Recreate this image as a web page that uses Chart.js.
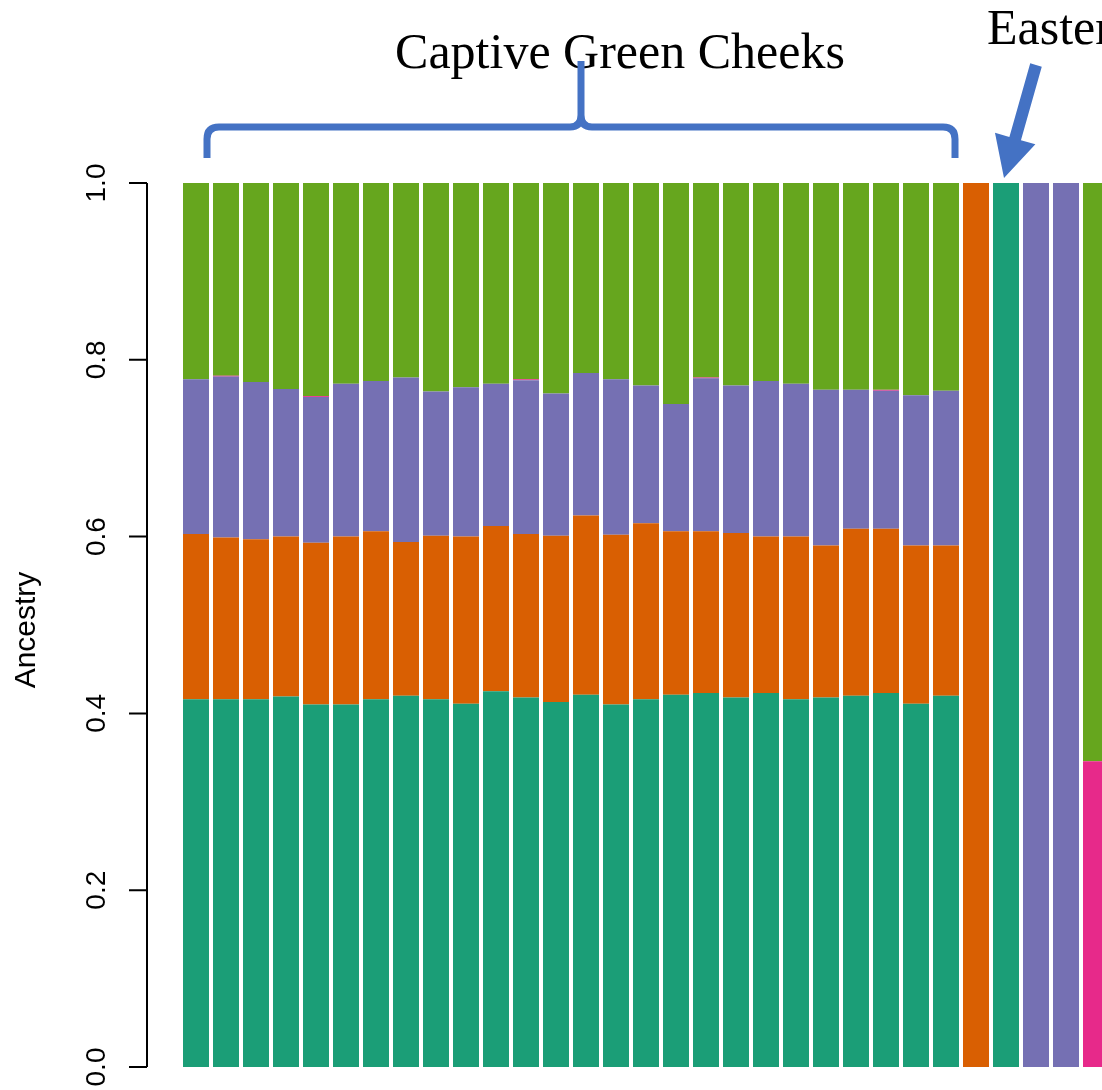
<!DOCTYPE html>
<html>
<head>
<meta charset="utf-8">
<title>Ancestry</title>
<script src="https://cdn.jsdelivr.net/npm/chart.js@4/dist/chart.umd.min.js"></script>
<style>
  html, body { margin: 0; padding: 0; background: #fff; overflow: hidden; }
  #wrap { position: absolute; left: 0; top: 0; width: 1120px; height: 1090px; }
</style>
</head>
<body>
<div id="wrap"><canvas id="ancestryChart" width="1120" height="1090"></canvas></div>
<script>
// individuos (26 captive green cheeks + referencias)
const samples = ['C01','C02','C03','C04','C05','C06','C07','C08','C09','C10','C11','C12','C13',
  'C14','C15','C16','C17','C18','C19','C20','C21','C22','C23','C24','C25','C26',
  'R01','R02','R03','R04','R05'];

// proporciones de ancestría por cluster (de abajo hacia arriba)
const teal   = [0.416,0.416,0.416,0.419,0.410,0.410,0.416,0.420,0.416,0.411,0.425,0.418,0.413,
                0.421,0.410,0.416,0.421,0.423,0.418,0.423,0.416,0.418,0.420,0.423,0.411,0.420,
                0,1,0,0,0];
const orange = [0.187,0.183,0.181,0.181,0.183,0.190,0.190,0.174,0.185,0.189,0.187,0.185,0.188,
                0.203,0.192,0.199,0.185,0.183,0.186,0.177,0.184,0.172,0.189,0.186,0.179,0.170,
                1,0,0,0,0];
const purple = [0.175,0.182,0.178,0.167,0.165,0.173,0.170,0.186,0.163,0.169,0.161,0.174,0.161,
                0.161,0.176,0.156,0.144,0.173,0.167,0.176,0.173,0.176,0.157,0.156,0.170,0.175,
                0,0,1,1,0];
const pink   = [0,0.001,0,0,0.001,0,0,0,0,0,0,0.001,0,
                0,0,0,0,0.001,0,0,0,0,0,0.001,0,0,
                0,0,0,0,0.346];
const green  = [0.222,0.218,0.225,0.233,0.241,0.227,0.224,0.220,0.236,0.231,0.227,0.222,0.238,
                0.215,0.222,0.229,0.250,0.220,0.229,0.224,0.227,0.234,0.234,0.234,0.240,0.235,
                0,0,0,0,0.654];

const tickValues = [0, 0.2, 0.4, 0.6, 0.8, 1.0];
const tickLabels = ['0.0', '0.2', '0.4', '0.6', '0.8', '1.0'];

const BLUE = '#4472C4';

// eje Y estilo R + anotaciones (llave y flecha)
const decoPlugin = {
  id: 'deco',
  afterDraw(chart) {
    const ctx = chart.ctx;
    const y = chart.scales.y;
    const axisX = 147;

    ctx.save();
    ctx.strokeStyle = '#000';
    ctx.lineWidth = 2;
    ctx.beginPath();
    ctx.moveTo(axisX, y.getPixelForValue(0));
    ctx.lineTo(axisX, y.getPixelForValue(1));
    tickValues.forEach(v => {
      const py = y.getPixelForValue(v);
      ctx.moveTo(axisX, py);
      ctx.lineTo(129, py);
    });
    ctx.stroke();

    ctx.fillStyle = '#000';
    ctx.font = '28px "Liberation Sans", Arial, sans-serif';
    ctx.textAlign = 'center';
    ctx.textBaseline = 'alphabetic';
    tickValues.forEach((v, i) => {
      const py = y.getPixelForValue(v);
      ctx.save();
      ctx.translate(105, py);
      ctx.rotate(-Math.PI / 2);
      ctx.fillText(tickLabels[i], 0, 0);
      ctx.restore();
    });

    // título del eje
    ctx.save();
    ctx.font = '30px "Liberation Sans", Arial, sans-serif';
    ctx.translate(35, 630);
    ctx.rotate(-Math.PI / 2);
    ctx.fillText('Ancestry', 0, 0);
    ctx.restore();

    // textos de grupos
    ctx.font = '50px "Liberation Serif", "Times New Roman", serif';
    ctx.textAlign = 'center';
    ctx.fillText('Captive Green Cheeks', 620, 68);
    ctx.textAlign = 'left';
    ctx.fillText('Eastern', 987, 44);

    // llave
    ctx.strokeStyle = BLUE;
    ctx.lineWidth = 7;
    ctx.lineJoin = 'round';
    ctx.beginPath();
    ctx.moveTo(207, 158);
    ctx.lineTo(207, 139);
    ctx.quadraticCurveTo(207, 127, 219, 127);
    ctx.lineTo(570, 127);
    ctx.quadraticCurveTo(581, 127, 581, 115);
    ctx.lineTo(581, 61);
    ctx.moveTo(581, 115);
    ctx.quadraticCurveTo(581, 127, 592, 127);
    ctx.lineTo(943, 127);
    ctx.quadraticCurveTo(955, 127, 955, 139);
    ctx.lineTo(955, 158);
    ctx.stroke();

    // flecha
    const sx = 1036, sy = 65, tx = 1004, ty = 178;
    const len = Math.hypot(tx - sx, ty - sy);
    const ux = (tx - sx) / len, uy = (ty - sy) / len;
    const px = -uy, py = ux;
    const hb = 41, hw = 21, sw = 6;
    const bx = tx - ux * hb, by = ty - uy * hb;
    ctx.fillStyle = BLUE;
    ctx.beginPath();
    ctx.moveTo(sx + px * sw, sy + py * sw);
    ctx.lineTo(bx + px * sw, by + py * sw);
    ctx.lineTo(bx + px * hw, by + py * hw);
    ctx.lineTo(tx, ty);
    ctx.lineTo(bx - px * hw, by - py * hw);
    ctx.lineTo(bx - px * sw, by - py * sw);
    ctx.lineTo(sx - px * sw, sy - py * sw);
    ctx.closePath();
    ctx.fill();
    ctx.restore();
  }
};

const ds = (label, data, color) => ({
  label, data, backgroundColor: color, borderWidth: 0,
  barPercentage: 1, categoryPercentage: 26 / 30
});

new Chart(document.getElementById('ancestryChart'), {
  type: 'bar',
  data: {
    labels: samples,
    datasets: [
      ds('K1', teal,   '#1B9E77'),
      ds('K2', orange, '#D95F02'),
      ds('K3', purple, '#7570B3'),
      ds('K4', pink,   '#E7298A'),
      ds('K5', green,  '#66A61E')
    ]
  },
  options: {
    responsive: false,
    devicePixelRatio: 1,
    animation: false,
    layout: { padding: { left: 181, right: 9, top: 183, bottom: 23 } },
    scales: {
      x: { stacked: true, display: false },
      y: { stacked: true, display: false, min: 0, max: 1 }
    },
    plugins: {
      legend: { display: false },
      tooltip: { enabled: false }
    }
  },
  plugins: [decoPlugin]
});
</script>
</body>
</html>
